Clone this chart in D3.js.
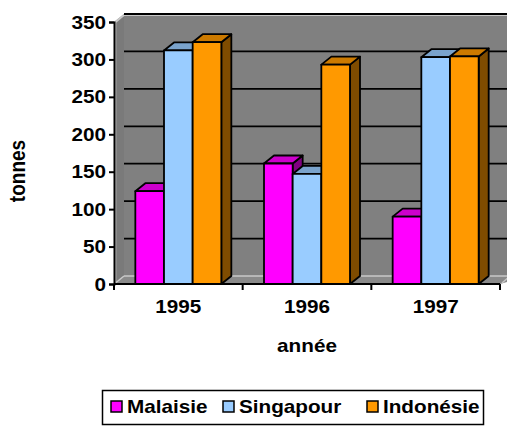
<!DOCTYPE html>
<html><head><meta charset="utf-8">
<script src="https://cdn.jsdelivr.net/npm/d3@7"></script>
<style>body{margin:0;background:#fff}svg{display:block}text{font-family:Arial,"Liberation Sans",sans-serif;font-weight:bold;fill:#000}</style>
</head><body>
<script>
const years = ["1995","1996","1997"];
const seriesNames = ["Malaisie","Singapour","Indonésie"];
const malaisie = [124,161,90];
const singapour = [312,147,303];
const indonesie = [323,293,304];
const yTicks = [0,50,100,150,200,250,300,350];
const frontColors = ["#FF00FF","#99CCFF","#FF9900"];
const topColors = ["#CC00CC","#7AA3CC","#CC7A00"];
const sideColors = ["#800080","#4C667F","#7F4C00"];

const W=507,H=426;
const dx=10, dy=-8;
const FS=18, SX=1.15;
const svg=d3.select("body").append("svg").attr("width",W).attr("height",H);
const x0=d3.scaleBand().domain(years).range([114,500]).paddingInner(0.3316).paddingOuter(0.1658);
const x1=d3.scaleBand().domain(seriesNames).range([0,x0.bandwidth()]);
const y=d3.scaleLinear().domain([0,350]).range([284,22]);
const data=[malaisie,singapour,indonesie];
const xL=114, xR=500, y0=y(0), yT=y(350);

function label(x,yy,txt,anchor){
  return svg.append("text").attr("transform",`translate(${x},${yy}) scale(${SX},1)`)
    .attr("text-anchor",anchor||"start").attr("font-size",FS).text(txt);
}

// walls
svg.append("rect").attr("x",xL+dx).attr("y",yT+dy).attr("width",W).attr("height",y0-yT).attr("fill","#808080");
svg.append("polygon").attr("points",[[xL,y0],[xL,yT],[xL+dx,yT+dy],[xL+dx,y0+dy]].join(" ")).attr("fill","#7a7a7a");
svg.append("polygon").attr("points",[[xL,y0],[xL+dx,y0+dy],[W+20,y0+dy],[xR,y0]].join(" ")).attr("fill","#8a8a8a");
// light edges
const light="#c8c8c8";
svg.append("line").attr("x1",xL+dx).attr("x2",W).attr("y1",yT+dy+1).attr("y2",yT+dy+1).attr("stroke",light).attr("stroke-width",2);
svg.append("line").attr("x1",xL+1.5).attr("y1",yT).attr("x2",xL+dx).attr("y2",yT+dy+1).attr("stroke",light).attr("stroke-width",2);
svg.append("line").attr("x1",xL+1.5).attr("y1",yT).attr("x2",xL+1.5).attr("y2",y0).attr("stroke",light).attr("stroke-width",1.5);
svg.append("line").attr("x1",xL+1.5).attr("y1",y0-1).attr("x2",xL+dx).attr("y2",y0+dy).attr("stroke",light).attr("stroke-width",1.5);
svg.append("line").attr("x1",xL+dx).attr("y1",y0+dy).attr("x2",W).attr("y2",y0+dy).attr("stroke",light).attr("stroke-width",1.5);
svg.append("line").attr("x1",xR+2).attr("y1",y0-1).attr("x2",xR+dx).attr("y2",y0+dy).attr("stroke",light).attr("stroke-width",1.5);

// gridlines on back wall
svg.append("g").selectAll("line").data(yTicks.filter(d=>d>0)).join("line")
  .attr("x1",xL+dx).attr("x2",W).attr("y1",d=>y(d)+dy).attr("y2",d=>y(d)+dy)
  .attr("stroke","#000").attr("stroke-width",1.8);

// bars
const g=svg.append("g").attr("stroke","#000").attr("stroke-width",1.8).attr("stroke-linejoin","round");
years.forEach((yr,i)=>{
  seriesNames.forEach((s,j)=>{
    const v=data[j][i];
    const xa=x0(yr)+x1(s), xb=xa+x1.bandwidth(), yt=y(v);
    g.append("polygon").attr("points",[[xb,yt],[xb+dx,yt+dy],[xb+dx,y0+dy],[xb,y0]].join(" ")).attr("fill",sideColors[j]);
    g.append("polygon").attr("points",[[xa,yt],[xa+dx,yt+dy],[xb+dx,yt+dy],[xb,yt]].join(" ")).attr("fill",topColors[j]);
    g.append("rect").attr("x",xa).attr("y",yt).attr("width",xb-xa).attr("height",y0-yt).attr("fill",frontColors[j]);
  });
});

// y axis
const yAxis=d3.axisLeft(y).tickValues(yTicks).tickSize(5).tickFormat("");
const ya=svg.append("g").attr("transform",`translate(${xL},0)`).call(yAxis);
ya.select(".domain").attr("stroke","#000").attr("stroke-width",2);
ya.selectAll(".tick line").attr("stroke","#000").attr("stroke-width",2);
yTicks.forEach(t=>label(xL-8, y(t)+6.5, String(t), "end"));

// x axis
const xAxisScale=d3.scalePoint().domain([0,1,2,3]).range([xL,xR]);
const xa=svg.append("g").attr("transform",`translate(0,${y0})`);
xa.append("line").attr("x1",xL).attr("x2",xR).attr("stroke","#000").attr("stroke-width",2);
xa.selectAll(".tk").data([0,1,2,3]).join("line").attr("x1",d=>xAxisScale(d)).attr("x2",d=>xAxisScale(d)).attr("y1",0).attr("y2",6).attr("stroke","#000").attr("stroke-width",2);
years.forEach(yr=>label(x0(yr)+x0.bandwidth()/2, 313, yr, "middle"));

label(307,352,"année","middle");
svg.append("text").attr("transform",`translate(25,171) rotate(-90) scale(1,${SX})`).attr("text-anchor","middle").attr("font-size",19).text("tonnes");

// legend
svg.append("rect").attr("x",102.5).attr("y",390.5).attr("width",381).attr("height",34).attr("fill","#fff").attr("stroke","#000").attr("stroke-width",1.5);
const legX=[111,223,367];
seriesNames.forEach((s,j)=>{
  svg.append("rect").attr("x",legX[j]).attr("y",401).attr("width",11).attr("height",11).attr("fill",frontColors[j]).attr("stroke","#000").attr("stroke-width",1.5);
  label(legX[j]+16, 413, s, "start");
});
</script>
</body></html>
